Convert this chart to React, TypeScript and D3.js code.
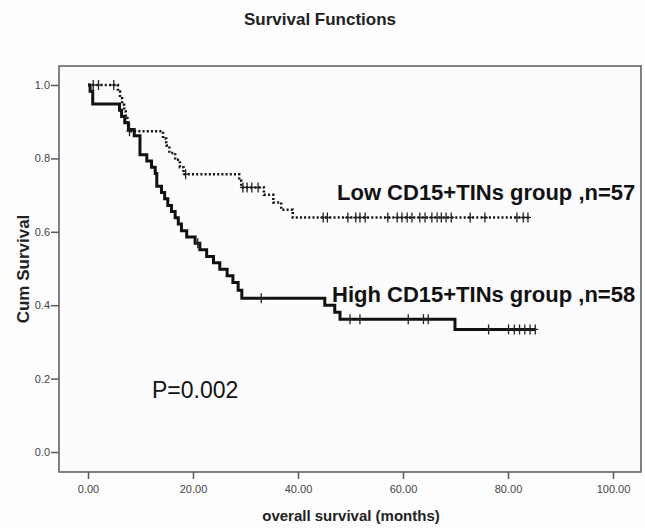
import React, { useRef, useEffect } from 'react';
import * as d3 from 'd3';

// High CD15+TINs group: step times (months) and survival after each step
const highTimes = [0, 0.4, 0.9, 6.0, 6.4, 7.0, 7.7, 8.8, 9.9, 11.2, 12.1, 12.8, 13.1, 14.0, 14.6, 15.2, 15.9, 16.6, 17.2, 17.8, 18.8, 20.4, 21.3, 22.6, 23.9, 25.1, 26.5, 27.6, 28.6, 29.3, 45.1, 47.0, 48.0, 69.9];
const highSurv = [1.0, 0.983, 0.948, 0.931, 0.914, 0.897, 0.879, 0.862, 0.81, 0.793, 0.776, 0.759, 0.724, 0.707, 0.69, 0.672, 0.655, 0.638, 0.621, 0.603, 0.586, 0.569, 0.551, 0.533, 0.516, 0.498, 0.48, 0.462, 0.441, 0.419, 0.4, 0.381, 0.362, 0.334];
const highEnd = 85.2;
const highCensored = [20.9, 33.0, 49.9, 51.8, 61.0, 63.9, 64.8, 76.3, 80.1, 81.2, 82.2, 83.2, 84.2, 85.2];

// Low CD15+TINs group
const lowTimes = [0, 5.7, 6.1, 6.5, 6.9, 7.2, 7.5, 7.8, 14.3, 14.9, 15.5, 16.6, 17.5, 18.2, 28.8, 29.2, 33.5, 35.3, 36.8, 39.0];
const lowSurv = [1.0, 0.982, 0.964, 0.946, 0.928, 0.91, 0.892, 0.874, 0.854, 0.835, 0.815, 0.796, 0.776, 0.757, 0.739, 0.721, 0.701, 0.68, 0.66, 0.639];
const lowEnd = 84.2;
const lowCensored = [1.0, 2.0, 4.9, 7.9, 18.6, 29.5, 30.3, 31.2, 32.4, 44.8, 45.6, 49.5, 51.0, 51.8, 52.8, 57.1, 58.9, 59.8, 60.8, 61.7, 63.2, 64.2, 65.5, 66.5, 67.3, 68.2, 69.2, 72.8, 75.6, 81.7, 82.9, 83.8];

const xTicks = [0, 20, 40, 60, 80, 100];
const yTicks = [0, 0.2, 0.4, 0.6, 0.8, 1.0];

const FONT = '"Liberation Sans", Arial, sans-serif';

const survAt = (times, surv, t) => {
  let s = surv[0];
  times.forEach((tt, i) => {
    if (tt <= t) s = surv[i];
  });
  return s;
};

const App = () => {
  const svgRef = useRef(null);
  const width = 645;
  const height = 528;

  useEffect(() => {
    const svg = d3.select(svgRef.current);
    svg.selectAll('*').remove();

    // plot frame in pixels
    const frame = { left: 59, top: 66, right: 641, bottom: 472 };

    const xScale = d3.scaleLinear().domain([0, 100]).range([88, 613]);
    const yScale = d3.scaleLinear().domain([0, 1]).range([452, 85]);

    svg.append('rect')
      .attr('width', width)
      .attr('height', height)
      .attr('fill', '#fdfdfe');

    // frame
    svg.append('rect')
      .attr('x', frame.left)
      .attr('y', frame.top)
      .attr('width', frame.right - frame.left)
      .attr('height', frame.bottom - frame.top)
      .attr('fill', '#fcfcfe')
      .attr('stroke', '#5a5a5a')
      .attr('stroke-width', 1.5);

    // Y axis
    const yAxis = svg.append('g')
      .attr('transform', `translate(${frame.left},0)`)
      .call(d3.axisLeft(yScale).tickValues(yTicks).tickFormat(d3.format('.1f')).tickSize(8).tickPadding(1));
    yAxis.select('.domain').remove();
    yAxis.selectAll('line').attr('stroke', '#5a5a5a').attr('stroke-width', 1.5);
    yAxis.selectAll('text').attr('font-family', FONT).attr('font-size', 11).attr('fill', '#444');

    // X axis
    const xAxis = svg.append('g')
      .attr('transform', `translate(0,${frame.bottom})`)
      .call(d3.axisBottom(xScale).tickValues(xTicks).tickFormat(d3.format('.2f')).tickSize(7).tickPadding(6));
    xAxis.select('.domain').remove();
    xAxis.selectAll('line').attr('stroke', '#5a5a5a').attr('stroke-width', 1.5);
    xAxis.selectAll('text').attr('font-family', FONT).attr('font-size', 11).attr('fill', '#444');

    const line = d3.line()
      .x(d => xScale(d[0]))
      .y(d => yScale(d[1]))
      .curve(d3.curveStepAfter);

    const highPts = highTimes.map((t, i) => [t, highSurv[i]]);
    highPts.push([highEnd, highSurv[highSurv.length - 1]]);
    const lowPts = lowTimes.map((t, i) => [t, lowSurv[i]]);
    lowPts.push([lowEnd, lowSurv[lowSurv.length - 1]]);

    // Low group: dotted
    svg.append('path')
      .datum(lowPts)
      .attr('d', line)
      .attr('fill', 'none')
      .attr('stroke', '#111')
      .attr('stroke-width', 2.5)
      .attr('stroke-dasharray', '2,2.2');

    // High group: solid
    svg.append('path')
      .datum(highPts)
      .attr('d', line)
      .attr('fill', 'none')
      .attr('stroke', '#111')
      .attr('stroke-width', 3);

    // censor marks
    const drawCensors = (times, surv, list, cls) => {
      const g = svg.append('g').attr('class', cls);
      list.forEach(t => {
        const cx = xScale(t);
        const cy = yScale(survAt(times, surv, t));
        g.append('line')
          .attr('x1', cx).attr('x2', cx)
          .attr('y1', cy - 5).attr('y2', cy + 5)
          .attr('stroke', '#222')
          .attr('stroke-width', 1.3);
        g.append('line')
          .attr('x1', cx - 3).attr('x2', cx + 3)
          .attr('y1', cy).attr('y2', cy)
          .attr('stroke', '#222')
          .attr('stroke-width', 1.3);
      });
    };
    drawCensors(lowTimes, lowSurv, lowCensored, 'low-censor');
    drawCensors(highTimes, highSurv, highCensored, 'high-censor');

    // group labels
    svg.append('text')
      .attr('x', 337)
      .attr('y', 200)
      .attr('font-family', FONT)
      .attr('font-size', 22)
      .attr('font-weight', 'bold')
      .attr('fill', '#111')
      .text('Low CD15+TINs group ,n=57');

    svg.append('text')
      .attr('x', 332)
      .attr('y', 302)
      .attr('font-family', FONT)
      .attr('font-size', 22)
      .attr('font-weight', 'bold')
      .attr('fill', '#111')
      .text('High CD15+TINs group ,n=58');

    svg.append('text')
      .attr('x', 152)
      .attr('y', 398)
      .attr('font-family', FONT)
      .attr('font-size', 23)
      .attr('fill', '#111')
      .text('P=0.002');

    // title
    svg.append('text')
      .attr('x', 320)
      .attr('y', 25)
      .attr('text-anchor', 'middle')
      .attr('font-family', FONT)
      .attr('font-size', 17)
      .attr('font-weight', 'bold')
      .attr('fill', '#222')
      .text('Survival Functions');

    // axis titles
    svg.append('text')
      .attr('x', 351)
      .attr('y', 521)
      .attr('text-anchor', 'middle')
      .attr('font-family', FONT)
      .attr('font-size', 15)
      .attr('font-weight', 'bold')
      .attr('fill', '#222')
      .text('overall survival (months)');

    svg.append('text')
      .attr('transform', 'translate(29,269) rotate(-90)')
      .attr('text-anchor', 'middle')
      .attr('font-family', FONT)
      .attr('font-size', 17)
      .attr('font-weight', 'bold')
      .attr('fill', '#222')
      .text('Cum Survival');
  }, []);

  return (
    <svg
      ref={svgRef}
      width={width}
      height={height}
      style={{ position: 'absolute', left: 0, top: 0 }}
    />
  );
};

export default App;
